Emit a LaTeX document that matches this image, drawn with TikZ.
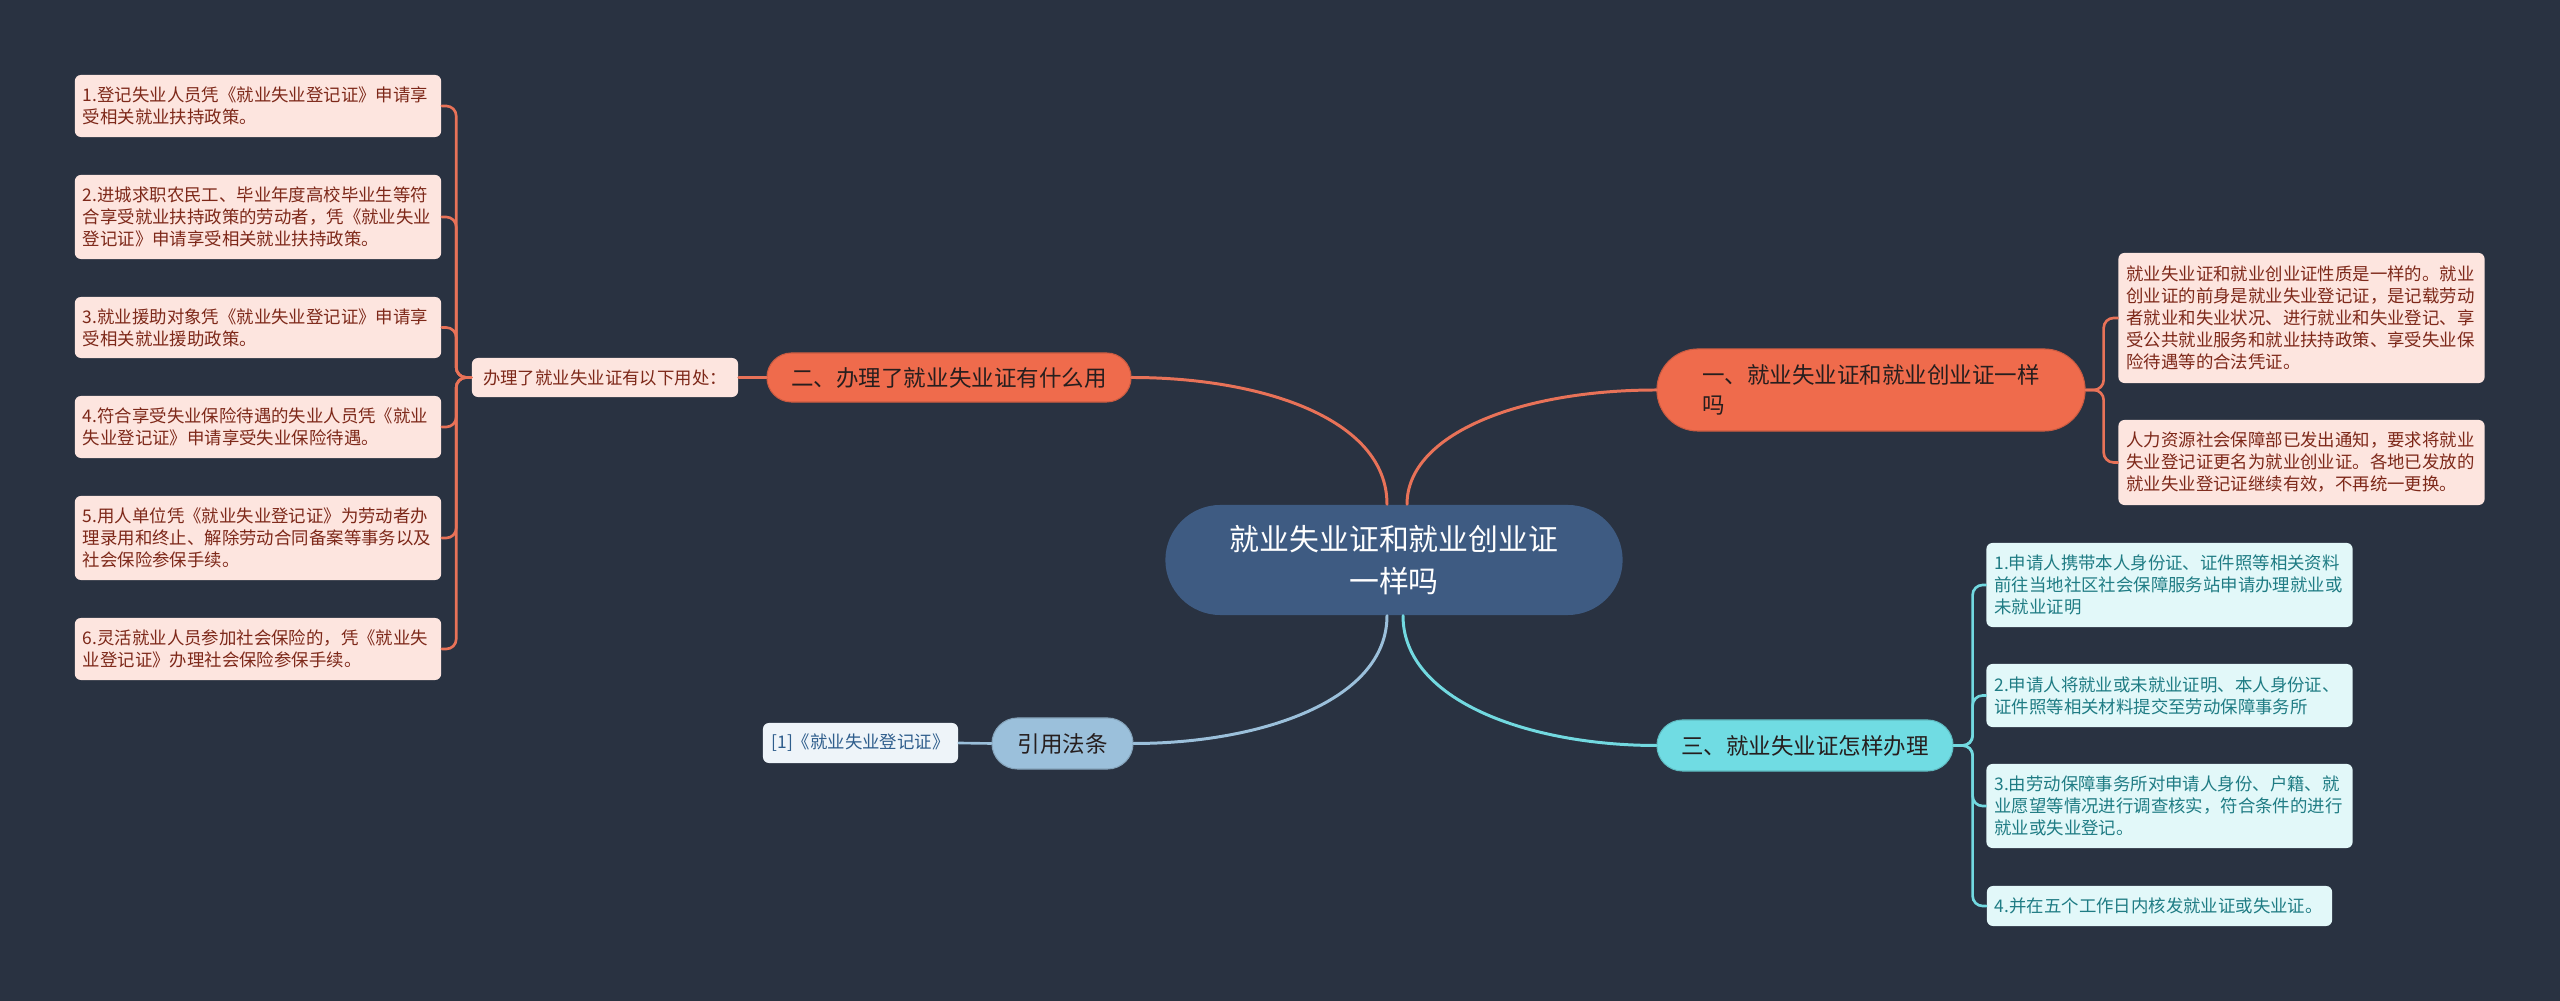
\documentclass[tikz,border=0pt]{standalone}
\usepackage{fontspec}
\setmainfont{Noto Sans CJK SC}

\definecolor{bgnavy}{RGB}{41,50,65}
\definecolor{rootblue}{RGB}{62,91,130}
\definecolor{orangefill}{RGB}{239,107,76}
\definecolor{orangeline}{RGB}{232,114,88}
\definecolor{pinkfill}{RGB}{253,229,223}
\definecolor{pinktext}{RGB}{125,40,25}
\definecolor{cyanfill}{RGB}{112,220,227}
\definecolor{cyanline}{RGB}{114,217,224}
\definecolor{cyanleaf}{RGB}{226,248,249}
\definecolor{cyantext}{RGB}{31,124,132}
\definecolor{bluefill}{RGB}{155,192,219}
\definecolor{blueleaf}{RGB}{238,244,249}
\definecolor{bluetext}{RGB}{46,93,140}
\definecolor{darktext}{RGB}{38,30,30}

\begin{document}
\begin{tikzpicture}[x=0.01cm,y=-0.01cm,
    root/.style={fill=rootblue,text=white,rounded corners=0.55cm,minimum width=4.57cm,minimum height=1.1cm,
        align=center,inner sep=0pt,font=\fontsize{8.5pt}{11.9pt}\selectfont},
    topic/.style={fill=#1,draw=#1!85!black,line width=0.3pt,text=darktext,inner sep=0pt,
        font=\fontsize{6.4pt}{8.5pt}\selectfont},
    leaf/.style={rounded corners=0.06cm,align=left,text width=3.5cm,inner xsep=0.08cm,inner ysep=0pt,
        font=\fontsize{4.95pt}{6.25pt}\selectfont},
    pinkbox/.style={leaf,fill=pinkfill,text=pinktext},
    cyanbox/.style={leaf,fill=cyanleaf,text=cyantext},
    link/.style={line width=0.75pt,line cap=round}]
    \useasboundingbox (0,0) rectangle (2560,1001);
    \fill[bgnavy] (0,0) rectangle (2560,1001);

    % centre and main topics
    \node[root] (root) at (1394,560) {就业失业证和就业创业证\\一样吗};
    \node[topic=orangefill,minimum width=4.28cm,minimum height=0.82cm,rounded corners=0.41cm,align=left] (q1) at (1871,390) {一、就业失业证和就业创业证一样\\吗};
    \node[topic=orangefill,minimum width=3.64cm,minimum height=0.49cm,rounded corners=0.245cm] (q2) at (949,377.5) {二、办理了就业失业证有什么用};
    \node[topic=cyanfill,minimum width=2.96cm,minimum height=0.51cm,rounded corners=0.255cm] (q3) at (1805,745.5) {三、就业失业证怎样办理};
    \node[topic=bluefill,minimum width=1.41cm,minimum height=0.51cm,rounded corners=0.255cm] (cite) at (1062.5,743.5) {引用法条};

    % first topic
    \node[pinkbox,minimum height=1.30cm] (ans1) at (2301.5,318) {就业失业证和就业创业证性质是一样的。就业\\创业证的前身是就业失业登记证，是记载劳动\\者就业和失业状况、进行就业和失业登记、享\\受公共就业服务和就业扶持政策、享受失业保\\险待遇等的合法凭证。};
    \node[pinkbox,minimum height=0.85cm] (ans2) at (2301.5,462.5) {人力资源社会保障部已发出通知，要求将就业\\失业登记证更名为就业创业证。各地已发放的\\就业失业登记证继续有效，不再统一更换。};

    % second topic
    \node[pinkbox,text width=2.44cm,align=center,minimum width=2.66cm,minimum height=0.39cm] (useintro) at (605,377.5) {办理了就业失业证有以下用处：};
    \node[pinkbox,minimum height=0.62cm] (use1) at (258,106) {1.登记失业人员凭《就业失业登记证》申请享\\受相关就业扶持政策。};
    \node[pinkbox,minimum height=0.84cm] (use2) at (258,217) {2.进城求职农民工、毕业年度高校毕业生等符\\合享受就业扶持政策的劳动者，凭《就业失业\\登记证》申请享受相关就业扶持政策。};
    \node[pinkbox,minimum height=0.61cm] (use3) at (258,327.5) {3.就业援助对象凭《就业失业登记证》申请享\\受相关就业援助政策。};
    \node[pinkbox,minimum height=0.62cm] (use4) at (258,427) {4.符合享受失业保险待遇的失业人员凭《就业\\失业登记证》申请享受失业保险待遇。};
    \node[pinkbox,minimum height=0.84cm] (use5) at (258,538) {5.用人单位凭《就业失业登记证》为劳动者办\\理录用和终止、解除劳动合同备案等事务以及\\社会保险参保手续。};
    \node[pinkbox,minimum height=0.62cm] (use6) at (258,649) {6.灵活就业人员参加社会保险的，凭《就业失\\业登记证》办理社会保险参保手续。};

    % third topic
    \node[cyanbox,minimum height=0.84cm] (how1) at (2169.5,585) {1.申请人携带本人身份证、证件照等相关资料\\前往当地社区社会保障服务站申请办理就业或\\未就业证明};
    \node[cyanbox,minimum height=0.63cm] (how2) at (2169.5,695.5) {2.申请人将就业或未就业证明、本人身份证、\\证件照等相关材料提交至劳动保障事务所};
    \node[cyanbox,minimum height=0.84cm] (how3) at (2169.5,806) {3.由劳动保障事务所对申请人身份、户籍、就\\业愿望等情况进行调查核实，符合条件的进行\\就业或失业登记。};
    \node[cyanbox,text width=3.29cm,minimum height=0.40cm] (how4) at (2159.5,906) {4.并在五个工作日内核发就业证或失业证。};

    % citation
    \node[leaf,fill=blueleaf,text=bluetext,text width=1.79cm,align=center,minimum height=0.40cm] (citeref) at (860.5,743) {[1]《就业失业登记证》};

    % links from the centre
    \draw[link,orangeline,line width=0.85pt] ([xshift=-0.07cm]root.north) .. controls +(0,-86) and +(129,0) .. (q2.east);
    \draw[link,orangeline,line width=0.85pt] ([xshift=0.13cm]root.north) .. controls +(0,-70) and +(-137,0) .. (q1.west);
    \draw[link,bluefill,line width=0.85pt] ([xshift=-0.07cm]root.south) .. controls +(0,85) and +(127,0) .. (cite.east);
    \draw[link,cyanline,line width=0.85pt] ([xshift=0.09cm]root.south) .. controls +(0,85) and +(-127,0) .. (q3.west);

    % brackets
    \draw[link,orangeline,rounded corners=0.1cm] (q1.east) -- ++(18,0) |- (ans1.west);
    \draw[link,orangeline,rounded corners=0.1cm] (q1.east) -- ++(18,0) |- (ans2.west);

    \draw[link,orangeline] (q2.west) -- (useintro.east);
    \draw[link,orangeline,rounded corners=0.1cm] (useintro.west) -- ++(-15,0) |- (use1.east);
    \draw[link,orangeline,rounded corners=0.1cm] (useintro.west) -- ++(-15,0) |- (use2.east);
    \draw[link,orangeline,rounded corners=0.1cm] (useintro.west) -- ++(-15,0) |- (use3.east);
    \draw[link,orangeline,rounded corners=0.1cm] (useintro.west) -- ++(-15,0) |- (use4.east);
    \draw[link,orangeline,rounded corners=0.1cm] (useintro.west) -- ++(-15,0) |- (use5.east);
    \draw[link,orangeline,rounded corners=0.1cm] (useintro.west) -- ++(-15,0) |- (use6.east);

    \draw[link,cyanline,rounded corners=0.1cm] (q3.east) -- ++(19,0) |- (how1.west);
    \draw[link,cyanline,rounded corners=0.1cm] (q3.east) -- ++(19,0) |- (how2.west);
    \draw[link,cyanline,rounded corners=0.1cm] (q3.east) -- ++(19,0) |- (how3.west);
    \draw[link,cyanline,rounded corners=0.1cm] (q3.east) -- ++(19,0) |- (how4.west);

    \draw[link,bluefill] (cite.west) -- (citeref.east);
\end{tikzpicture}
\end{document}
